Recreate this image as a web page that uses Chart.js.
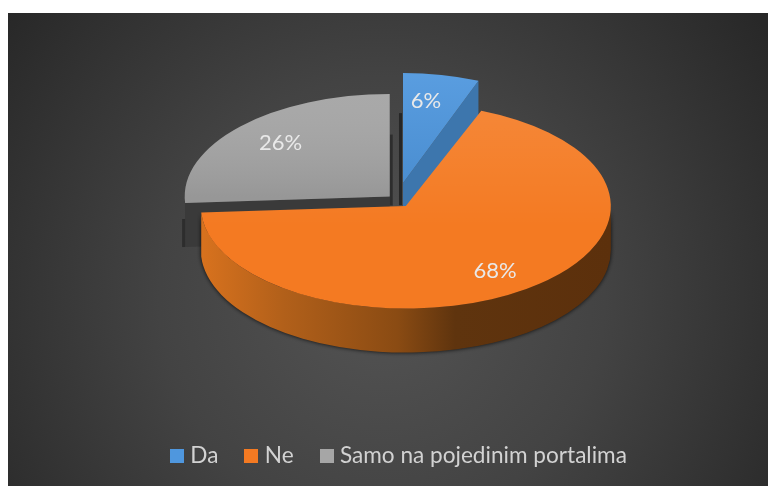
<!DOCTYPE html>
<html lang="en">
<head>
  <meta charset="UTF-8">
  <title>Da / Ne / Samo na pojedinim portalima</title>
  <style>
    html, body { margin: 0; padding: 0; background: #fff; }
    #wrap { position: absolute; left: 0; top: 0; width: 768px; height: 486px; }
  </style>
  <script src="https://cdn.jsdelivr.net/npm/chart.js"></script>
</head>
<body>
  <div id="wrap"><canvas id="pie" width="768" height="486"></canvas></div>
  <script>
    // Data
    const labels = ['Da', 'Ne', 'Samo na pojedinim portalima'];
    const values = [6, 68, 26];

    // Slice styling, same order as labels
    const legendColors = ['#4f97de', '#f47a22', '#a6a6a6'];
    const faceTop = ['rgba(255,255,255,0.06)', 'rgba(255,255,255,0.10)', 'rgba(255,255,255,0.03)'];
    const faceBottom = ['rgba(0,0,0,0.06)', 'rgba(255,255,255,0)', 'rgba(0,0,0,0.09)'];
    const cutWall = ['#3d76ad', '#a85a14', '#3a3a3a'];

    // Fake 3D: every slice is squashed and moved on its own
    const RADIUS = 205;
    const DEPTH = 44;
    const SQUASH = [0.537, 0.5, 0.5];
    const EXPLODE = [32, 15, 10];
    const PIE_CENTER = { x: 397, y: 200 };
    const LABEL_FRAC_X = [0.6, 0.74, 0.73];
    const LABEL_FRAC_Y = [0.76, 0.78, 0.77];
    const DRAW_ORDER = [2, 0, 1]; // back to front

    // Where a slice's apex ends up on screen
    function apexOf(el, i) {
      const mid = (el.startAngle + el.endAngle) / 2;
      return {
        x: PIE_CENTER.x + Math.cos(mid) * EXPLODE[i],
        y: PIE_CENTER.y + Math.sin(mid) * EXPLODE[i] * SQUASH[i],
        mid: mid
      };
    }

    function wedgePath(ctx, a, el, i) {
      ctx.beginPath();
      ctx.moveTo(a.x, a.y);
      ctx.ellipse(a.x, a.y, RADIUS, RADIUS * SQUASH[i], 0, el.startAngle, el.endAngle);
      ctx.closePath();
    }

    function drawWalls(ctx, el, i, a) {
      const ry = RADIUS * SQUASH[i];

      // only the big slice shows its rim, from 3 o'clock round to its end
      if (i === 1) {
        const from = Math.max(el.startAngle, 0);
        ctx.save();
        ctx.shadowColor = 'rgba(0,0,0,0.85)';
        ctx.shadowBlur = 4;
        ctx.beginPath();
        ctx.ellipse(a.x, a.y, RADIUS, ry, 0, from, el.endAngle);
        ctx.ellipse(a.x, a.y + DEPTH, RADIUS, ry, 0, el.endAngle, from, true);
        ctx.closePath();
        const g = ctx.createLinearGradient(a.x - RADIUS, 0, a.x + RADIUS, 0);
        g.addColorStop(0, '#d8721e');
        g.addColorStop(0.2, '#b2601a');
        g.addColorStop(0.48, '#8a4b13');
        g.addColorStop(0.62, '#5f340e');
        g.addColorStop(1, '#5c300c');
        ctx.fillStyle = g;
        ctx.fill();
        ctx.restore();
        return;
      }

      // cut faces
      [el.startAngle, el.endAngle].forEach(ang => {
        const px = a.x + Math.cos(ang) * RADIUS;
        const py = a.y + Math.sin(ang) * ry;
        ctx.beginPath();
        ctx.moveTo(a.x, a.y);
        ctx.lineTo(px, py);
        ctx.lineTo(px, py + DEPTH);
        ctx.lineTo(a.x, a.y + DEPTH);
        ctx.closePath();
        ctx.fillStyle = cutWall[i];
        ctx.fill();
      });

      // dark strips beside the vertical cuts
      ctx.fillStyle = i === 0 ? '#262626' : '#2d2d2d';
      if (i === 0) {
        ctx.fillRect(a.x - 4, a.y - 70, 3, 92);
      } else {
        ctx.fillRect(a.x, a.y - 62, 3, 71);
        const lx = a.x + Math.cos(el.startAngle) * RADIUS;
        const ly = a.y + Math.sin(el.startAngle) * ry;
        ctx.fillRect(lx - 3, ly + 16, 3, DEPTH - 16);
      }
    }

    const pie3d = {
      id: 'pie3d',
      beforeDraw(chart) {
        const ctx = chart.ctx;
        const g = ctx.createRadialGradient(382, 300, 20, 382, 300, 470);
        g.addColorStop(0, '#525252');
        g.addColorStop(0.45, '#434343');
        g.addColorStop(1, '#282828');
        ctx.fillStyle = g;
        ctx.fillRect(8, 13, 760, 473);
      },
      beforeDatasetDraw(chart, args) {
        const ctx = chart.ctx;
        const arcs = args.meta.data;
        DRAW_ORDER.forEach(i => {
          const el = arcs[i];
          const a = apexOf(el, i);
          drawWalls(ctx, el, i, a);

          // top face, the library's own arc inside a squashing transform
          ctx.save();
          ctx.translate(a.x, a.y);
          ctx.scale(1, SQUASH[i]);
          ctx.translate(-el.x, -el.y);
          el.draw(ctx);
          ctx.restore();

          // soft sheen over it
          const g = ctx.createLinearGradient(0, a.y - RADIUS * SQUASH[i], 0, a.y + RADIUS * SQUASH[i]);
          g.addColorStop(0, faceTop[i]);
          g.addColorStop(i === 1 ? 0.6 : 0.5, faceBottom[i]);
          ctx.fillStyle = g;
          wedgePath(ctx, a, el, i);
          ctx.fill();
        });

        // percentage labels
        ctx.save();
        ctx.font = '22px Lato, sans-serif';
        ctx.fillStyle = '#e9e9e9';
        ctx.textAlign = 'center';
        ctx.textBaseline = 'middle';
        arcs.forEach((el, i) => {
          const a = apexOf(el, i);
          ctx.fillText(
            values[i] + '%',
            a.x + Math.cos(a.mid) * RADIUS * LABEL_FRAC_X[i],
            a.y + Math.sin(a.mid) * RADIUS * SQUASH[i] * LABEL_FRAC_Y[i]
          );
        });
        ctx.restore();
        return false; // arcs are already drawn
      }
    };

    // Legend swatch as a small canvas, so the gap to the text can be tighter than the default
    function swatch(color) {
      const c = document.createElement('canvas');
      c.width = 14;
      c.height = 14;
      const x = c.getContext('2d');
      x.fillStyle = color;
      x.fillRect(0, 0, 14, 14);
      return c;
    }

    new Chart(document.getElementById('pie'), {
      type: 'pie',
      data: {
        labels: labels,
        datasets: [{
          data: values,
          backgroundColor: legendColors,
          borderWidth: 0,
          radius: RADIUS
        }]
      },
      plugins: [pie3d],
      options: {
        responsive: false,
        animation: false,
        layout: { padding: { left: 34, bottom: 9 } },
        plugins: {
          tooltip: { enabled: false },
          legend: {
            position: 'bottom',
            labels: {
              usePointStyle: true,
              boxWidth: 4,
              boxHeight: 14,
              padding: 31,
              color: '#d2d2d2',
              font: { family: 'Lato, sans-serif', size: 22.6 },
              generateLabels(chart) {
                const items = Chart.overrides.pie.plugins.legend.labels.generateLabels(chart);
                items.forEach((item, i) => { item.pointStyle = swatch(legendColors[i]); });
                return items;
              }
            }
          }
        }
      }
    });
  </script>
</body>
</html>
